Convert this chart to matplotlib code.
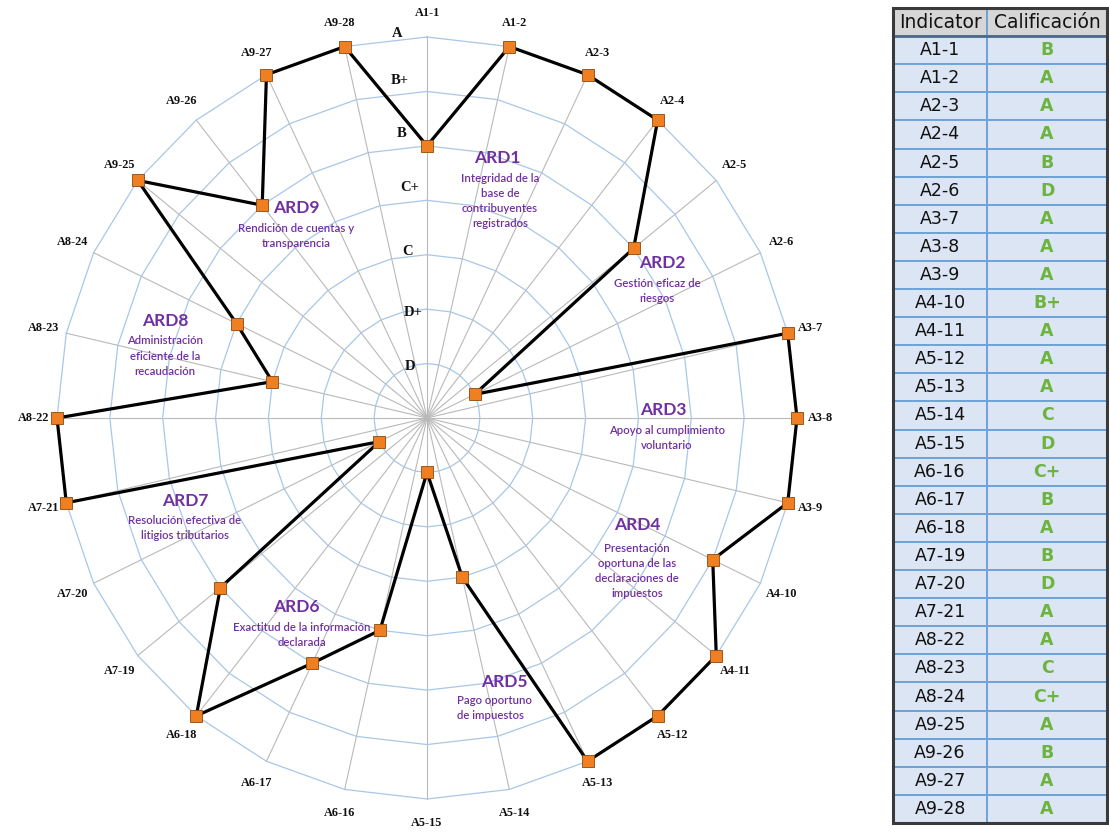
import numpy as np
import matplotlib
matplotlib.use("Agg")
import matplotlib.pyplot as plt
from matplotlib.patches import Rectangle

# ---------------- data ----------------
indicators = ["A1-1", "A1-2", "A2-3", "A2-4", "A2-5", "A2-6", "A3-7", "A3-8", "A3-9",
              "A4-10", "A4-11", "A5-12", "A5-13", "A5-14", "A5-15", "A6-16", "A6-17",
              "A6-18", "A7-19", "A7-20", "A7-21", "A8-22", "A8-23", "A8-24", "A9-25",
              "A9-26", "A9-27", "A9-28"]
grades = ["B", "A", "A", "A", "B", "D", "A", "A", "A", "B+", "A", "A", "A", "C", "D",
          "C+", "B", "A", "B", "D", "A", "A", "C", "C+", "A", "B", "A", "A"]
grade_scale = ["D", "D+", "C", "C+", "B", "B+", "A"]

areas = ["ARD1", "ARD2", "ARD3", "ARD4", "ARD5", "ARD6", "ARD7", "ARD8", "ARD9"]
area_desc = [
    "Integridad de la\nbase de\ncontribuyentes\nregistrados",
    "Gestión eficaz de\nriesgos",
    "Apoyo al cumplimiento\nvoluntario",
    "Presentación\noportuna de las\ndeclaraciones de\nimpuestos",
    "Pago oportuno\nde impuestos",
    "Exactitud de la información\ndeclarada",
    "Resolución efectiva de\nlitigios tributarios",
    "Administración\neficiente de la\nrecaudación",
    "Rendición de cuentas y\ntransparencia",
]

# ---------------- layout (pixels) ----------------
W, H = 1109, 833
area_head_pos = [(497, 158), (662, 263), (663, 410), (637, 525), (504, 682),
                 (296, 607), (185, 501), (165, 321), (296, 208)]
area_desc_pos = [(500, 201), (657, 291), (667, 438), (637, 571), (457, 708),
                 (302, 635), (185, 528), (165, 356), (296, 236)]
area_desc_ha = ["center"] * 4 + ["left"] + ["center"] * 4
grade_label_r = [0.95, 1.94, 3.06, 4.24, 5.23, 6.2, 7.06]
grade_label_dx = [-17, -14, -19, -17, -25, -27, -30]

score = {g: i + 1 for i, g in enumerate(grade_scale)}
values = np.array([score[g] for g in grades], dtype=float)
n = len(indicators)
theta = np.linspace(0, 2 * np.pi, n, endpoint=False)
rmax = len(grade_scale)

PURPLE = "#7030A0"

fig = plt.figure(figsize=(W / 100, H / 100), dpi=100)
fig.patch.set_facecolor("white")

ax = fig.add_axes([57 / W, 34 / H, 740 / W, 762 / H], projection="polar")
ax.set_aspect("auto")
ax.set_theta_zero_location("N")
ax.set_theta_direction(-1)
ax.set_ylim(0, rmax)
ax.grid(False)
ax.set_xticks([])
ax.set_yticks([])
ax.spines["polar"].set_visible(False)
ax.patch.set_alpha(0)

# spokes
for t in theta:
    ax.plot([t, t], [0, rmax], color="#b9b9b9", lw=0.8, zorder=1, clip_on=False)
# polygon rings
tc = np.append(theta, theta[0])
for lvl in range(1, rmax + 1):
    ax.plot(tc, [lvl] * (n + 1), color="#a9c7e6", lw=0.9, zorder=1, clip_on=False)

# data line
vc = np.append(values, values[0])
ax.plot(tc, vc, color="black", lw=2.3, zorder=3, clip_on=False)
ax.plot(theta, values, ls="none", marker="s", markersize=8.5,
        markerfacecolor="#F07F22", markeredgecolor="#8a4a10", markeredgewidth=0.6,
        zorder=4, clip_on=False)

# indicator labels
for t, lab in zip(theta, indicators):
    ax.text(t, 7.45, lab, ha="center", va="center", fontsize=8.8,
            fontfamily="Liberation Serif", fontweight="bold", color="#111111",
            clip_on=False)

# grade labels
for g, r, dx in zip(grade_scale, grade_label_r, grade_label_dx):
    ax.annotate(g, xy=(0, r), xytext=(dx, 0), textcoords="offset pixels",
                ha="center", va="center", fontsize=10.5, fontfamily="Liberation Serif",
                fontweight="bold", color="#111111", annotation_clip=False)

# area labels
for name, desc, (hx, hy), (dx_, dy_), ha in zip(areas, area_desc, area_head_pos,
                                               area_desc_pos, area_desc_ha):
    fig.text(hx / W, 1 - hy / H, name, ha="center", va="center", fontsize=12.5,
             fontfamily="Lato", fontweight="bold", color=PURPLE)
    fig.text(dx_ / W, 1 - dy_ / H, desc, ha=ha, va="center", fontsize=8.2,
             fontfamily="Lato", fontweight="semibold", color=PURPLE,
             linespacing=1.45, multialignment=ha)

# ---------------- table ----------------
tax = fig.add_axes([893 / W, 10 / H, 214 / W, 815 / H])
tax.axis("off")
cell_text = [[i, g] for i, g in zip(indicators, grades)]
tbl = tax.table(cellText=cell_text, colLabels=["Indicator", "Calificación"],
                bbox=[0, 0, 1, 1], colWidths=[0.44, 0.56], cellLoc="center")
tbl.auto_set_font_size(False)
for (r, c), cell in tbl.get_celld().items():
    cell.set_edgecolor("#6fa3d8")
    cell.set_linewidth(1.4)
    txt = cell.get_text()
    txt.set_fontfamily("DejaVu Sans")
    if r == 0:
        cell.set_facecolor("#d6d6d6")
        txt.set_fontsize(13.5)
        txt.set_color("#111111")
    else:
        cell.set_facecolor("#dce5f3")
        txt.set_fontsize(12.5)
        if c == 1:
            txt.set_color("#6db33f")
            txt.set_fontweight("bold")
        else:
            txt.set_color("#111111")

nrows = n + 1
tax.plot([0, 1], [n / nrows, n / nrows], color="#4d6a88", lw=2, transform=tax.transAxes,
         clip_on=False, zorder=5)
tax.add_patch(Rectangle((0, 0), 1, 1, transform=tax.transAxes, fill=False,
                        edgecolor="#3a3a3a", lw=2.2, clip_on=False, zorder=6))

fig.savefig("out.png", dpi=100)
